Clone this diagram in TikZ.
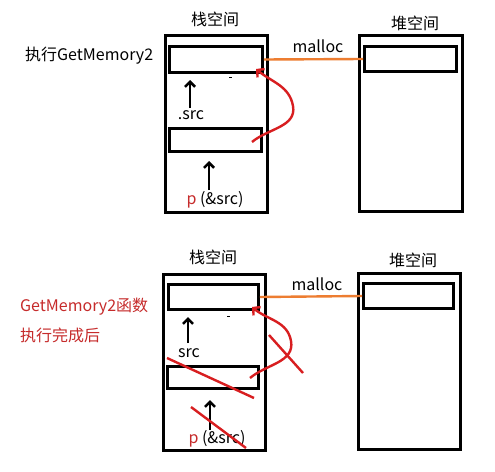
\documentclass[tikz,border=0pt]{standalone}
\usepackage{fontspec}
\setmainfont{Noto Sans CJK SC}
\usetikzlibrary{arrows.meta}
\definecolor{orangeln}{HTML}{ED7D31}
\definecolor{redln}{HTML}{D81E20}
\definecolor{redtxt}{HTML}{C62B2B}
\begin{document}
\begin{tikzpicture}[x=1pt,y=-1pt,
  box/.style={draw=black, line width=2.8pt, inner sep=0pt},
  lbl/.style={font=\fontsize{16}{18}\selectfont, inner sep=0pt},
  ptr/.style={line width=2.8pt, -{Straight Barb[length=5pt,width=10pt,line width=2.6pt]}},
  redarrow/.style={draw=redln, line width=2.4pt, -{Straight Barb[length=5pt,width=11pt,line width=2.4pt]}},
  cross/.style={draw=redln, line width=2.4pt},
  mal/.style={draw=orangeln, line width=2.4pt}]
\useasboundingbox (0,0) rectangle (495,471);
\fill[white] (0,0) rectangle (495,471);

% ---------- top panel ----------
\node[lbl] (stackTitleA) at (215,19) {栈空间};
\node[lbl] (heapTitleA) at (415,23) {堆空间};
\node[box, minimum width=102pt, minimum height=177pt] (stackA) at (216.5,124) {};
\node[box, minimum width=93pt, minimum height=26pt] (topA) at (216,59.5) {};
\node[box, minimum width=92pt, minimum height=23pt] (botA) at (215.5,140) {};
\node[box, minimum width=103pt, minimum height=176pt] (heapA) at (411,123.5) {};
\node[box, minimum width=92pt, minimum height=25pt] (htopA) at (410.5,59) {};
\node[lbl, anchor=west] (execA) at (25,56) {执行GetMemory2};
\node[lbl] (mallocA) at (318,46) {malloc};
\node[lbl] (srcA) at (191,115) {.src};
\node[lbl] (pA) at (215,200) {\textcolor{redtxt}{p} (\&src)};
\draw[mal] (topA.east) -- (htopA.west);
\coordinate (a1s) at (190,108);
\coordinate (a1e) at (190,80);
\draw[ptr] (a1s) -- (a1e);
\coordinate (a2s) at (209,190);
\coordinate (a2e) at (209,161);
\draw[ptr] (a2s) -- (a2e);
\coordinate (dashA1) at (229,77);
\coordinate (dashA2) at (232,77);
\draw[line width=1pt] (dashA1) -- (dashA2);
\coordinate (rAs) at (252,142);
\coordinate (rAm) at (293,106);
\coordinate (rAe) at (256,69);
\draw[redarrow] (rAs) to[out=40,in=-80] (rAm) to[out=100,in=-40] (rAe);

% ---------- bottom panel ----------
\node[lbl] (stackTitleB) at (213,257) {栈空间};
\node[lbl] (heapTitleB) at (413,260) {堆空间};
\node[box, minimum width=102pt, minimum height=176pt] (stackB) at (214.5,362.5) {};
\node[box, minimum width=90pt, minimum height=25pt] (topB) at (213.5,297) {};
\node[box, minimum width=91pt, minimum height=22pt] (botB) at (213,377.5) {};
\node[box, minimum width=102pt, minimum height=176pt] (heapB) at (409.5,361.5) {};
\node[box, minimum width=90pt, minimum height=25pt] (htopB) at (408.5,296) {};
\node[lbl, anchor=west, text=redtxt] (doneB1) at (20,307) {GetMemory2函数};
\node[lbl, anchor=west, text=redtxt] (doneB2) at (20,335) {执行完成后};
\node[lbl] (mallocB) at (317,284) {malloc};
\node[lbl] (srcB) at (189,353) {src};
\node[lbl] (pB) at (217,439) {\textcolor{redtxt}{p} (\&src)};
\draw[mal] (topB.east) -- (htopB.west);
\coordinate (b1s) at (188,343);
\coordinate (b1e) at (188,317);
\draw[ptr] (b1s) -- (b1e);
\coordinate (b2s) at (210,430);
\coordinate (b2e) at (210,400);
\draw[ptr] (b2s) -- (b2e);
\coordinate (dashB1) at (227,316);
\coordinate (dashB2) at (230,316);
\draw[line width=1pt] (dashB1) -- (dashB2);
\coordinate (rBs) at (250,378);
\coordinate (rBm) at (291,341);
\coordinate (rBe) at (252,307);
\draw[redarrow] (rBs) to[out=40,in=-80] (rBm) to[out=100,in=-40] (rBe);
\coordinate (x1s) at (167,358);
\coordinate (x1e) at (254,398);
\draw[cross] (x1s) -- (x1e);
\coordinate (x2s) at (191,407);
\coordinate (x2e) at (246,448);
\draw[cross] (x2s) -- (x2e);
\coordinate (x3s) at (269,335);
\coordinate (x3e) at (303,373);
\draw[cross] (x3s) -- (x3e);
\end{tikzpicture}
\end{document}
